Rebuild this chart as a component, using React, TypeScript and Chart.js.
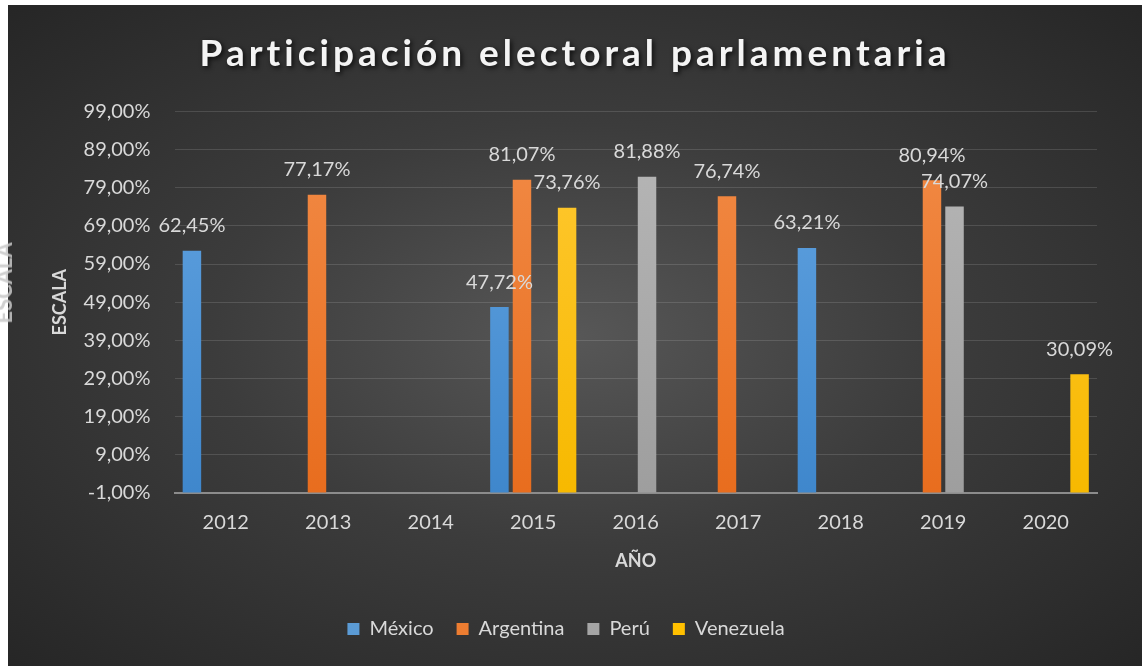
import React, { useEffect, useRef } from "react";
import { Chart, registerables } from "chart.js";

Chart.register(...registerables);

const categories = ["2012", "2013", "2014", "2015", "2016", "2017", "2018", "2019", "2020"];
const mexico = [62.45, null, null, 47.72, null, null, 63.21, null, null];
const argentina = [null, 77.17, null, 81.07, null, 76.74, null, 80.94, null];
const peru = [null, null, null, null, 81.88, null, null, 74.07, null];
const venezuela = [null, null, null, 73.76, null, null, null, null, 30.09];

const seriesNames = ["México", "Argentina", "Perú", "Venezuela"];
const seriesTop = ["#64a5e2", "#f28c48", "#b8b8b8", "#ffc935"];
const seriesBottom = ["#3f87cc", "#e86d1e", "#9e9e9e", "#f7b900"];
const seriesSolid = ["#5b9bd5", "#ed7d31", "#a5a5a5", "#ffc000"];

const yMin = -1;
const yMax = 99;
const yStep = 10;

const FONT = "Lato, 'Open Sans', sans-serif";
const TEXT = "#d9d9d9";

const fmt = (v: number) => v.toFixed(2).replace(".", ",") + "%";

const labelPlugin = {
  id: "valueLabels",
  afterDatasetsDraw(chart: any) {
    const ctx = chart.ctx;
    ctx.save();
    ctx.font = `20px ${FONT}`;
    ctx.fillStyle = TEXT;
    ctx.textAlign = "center";
    ctx.textBaseline = "middle";
    chart.data.datasets.forEach((ds: any, di: number) => {
      const meta = chart.getDatasetMeta(di);
      meta.data.forEach((el: any, i: number) => {
        const v = ds.data[i];
        if (v === null || v === undefined) return;
        ctx.fillText(fmt(v), el.x, el.y - 25);
      });
    });
    ctx.restore();
  },
};

// gives the built-in title wider letter spacing and a soft shadow
const titleStylePlugin = {
  id: "titleStyle",
  beforeDraw(chart: any) {
    const tb = chart.titleBlock;
    if (!tb || tb.__styled) return;
    const orig = tb.draw.bind(tb);
    tb.draw = () => {
      const ctx = chart.ctx;
      ctx.save();
      try {
        (ctx as any).letterSpacing = "4px";
      } catch (e) {}
      ctx.translate(9, 0);
      ctx.shadowColor = "rgba(0,0,0,0.75)";
      ctx.shadowBlur = 5;
      ctx.shadowOffsetX = 2;
      ctx.shadowOffsetY = 2;
      orig();
      ctx.restore();
    };
    tb.__styled = true;
  },
};

export default function App() {
  const ref = useRef<HTMLCanvasElement | null>(null);

  useEffect(() => {
    if (!ref.current) return;
    const series = [mexico, argentina, peru, venezuela];
    const chart = new Chart(ref.current, {
      type: "bar",
      data: {
        labels: categories,
        datasets: series.map((d, i) => ({
          label: seriesNames[i],
          data: d,
          base: yMin,
          backgroundColor: (c: any) => {
            const area = c.chart.chartArea;
            if (!area) return seriesSolid[i];
            const g = c.chart.ctx.createLinearGradient(0, area.top, 0, area.bottom);
            g.addColorStop(0, seriesTop[i]);
            g.addColorStop(1, seriesBottom[i]);
            return g;
          },
          borderWidth: 0,
          categoryPercentage: 0.88,
          barPercentage: 0.82,
        })),
      },
      options: {
        animation: false,
        responsive: false,
        maintainAspectRatio: false,
        layout: { padding: { left: 27, right: 45, top: 0, bottom: 17 } },
        plugins: {
          title: {
            display: true,
            text: "Participación electoral parlamentaria",
            color: "#f4f4f4",
            font: { family: FONT, size: 37, weight: "bold" },
            padding: { top: 27, bottom: 35 },
          },
          legend: {
            display: true,
            position: "bottom",
            labels: {
              color: TEXT,
              font: { family: FONT, size: 20 },
              boxWidth: 12,
              boxHeight: 12,
              padding: 23,
              generateLabels: () =>
                seriesNames.map((n, i) => ({
                  text: n,
                  fillStyle: seriesSolid[i],
                  strokeStyle: seriesSolid[i],
                  lineWidth: 0,
                  fontColor: TEXT,
                  hidden: false,
                  datasetIndex: i,
                })),
            },
          },
          tooltip: { enabled: false },
        },
        scales: {
          x: {
            grid: { display: false, drawTicks: false },
            border: { display: true, color: "#8c8c8c", width: 2 },
            ticks: { color: TEXT, font: { family: FONT, size: 20 }, padding: 18 },
            title: {
              display: true,
              text: "AÑO",
              color: TEXT,
              font: { family: FONT, size: 18, weight: "bold" },
              padding: { top: 0, bottom: 24 },
            },
            afterFit: (s: any) => {
              s.height = 103;
            },
          },
          y: {
            min: yMin,
            max: yMax,
            grid: { color: "rgba(255,255,255,0.13)", lineWidth: 1, drawTicks: false },
            border: { display: false },
            ticks: {
              stepSize: yStep,
              color: TEXT,
              font: { family: FONT, size: 20 },
              padding: 24,
              callback: (v: any) => fmt(Number(v)),
            },
            title: {
              display: true,
              text: "ESCALA",
              color: TEXT,
              font: { family: FONT, size: 18, weight: "bold" },
              padding: { top: 14, bottom: 0 },
            },
            afterFit: (s: any) => {
              s.width = 139.5;
            },
          },
        },
      },
      plugins: [labelPlugin, titleStylePlugin],
    });
    return () => chart.destroy();
  }, []);

  return (
    <>
      <div
        style={{
          position: "fixed",
          left: 8,
          top: 5,
          width: 1134,
          height: 661,
          background:
            "radial-gradient(ellipse at 50% 50%, #575757 0%, #3c3c3c 45%, #262626 100%)",
        }}
      >
        <canvas ref={ref} width={1134} height={661} style={{ display: "block" }} />
      </div>
      <span
        style={{
          position: "fixed",
          left: 4,
          top: 283,
          transform: "translate(-50%, -50%) rotate(-90deg)",
          fontFamily: FONT,
          fontWeight: "bold",
          fontSize: 22,
          lineHeight: 1,
          color: "rgba(200,200,200,0.85)",
          whiteSpace: "nowrap",
        }}
      >
        ESCALA
      </span>
    </>
  );
}
